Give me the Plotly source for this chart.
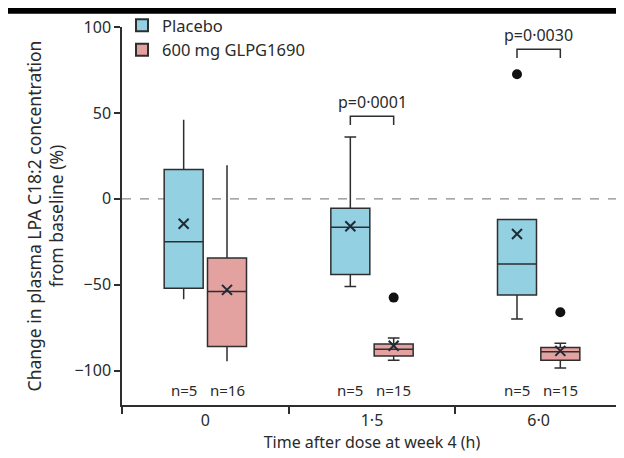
import plotly.graph_objects as go

# ---- data ----
categories = ["0", "1·5", "6·0"]
series_names = ["Placebo", "600 mg GLPG1690"]

placebo_q1 = [-52, -44, -56]
placebo_median = [-25, -16.5, -38]
placebo_q3 = [17, -5.5, -12]
placebo_low = [-58.5, -51, -70]
placebo_high = [46, 36, -12]
placebo_mean = [-14.5, -16, -20.5]
placebo_outliers = [None, None, 72.5]
placebo_n = [5, 5, 5]

glpg_q1 = [-86, -91.5, -94]
glpg_median = [-54, -87.5, -89]
glpg_q3 = [-34.5, -84.5, -86.5]
glpg_low = [-94.5, -94, -98.5]
glpg_high = [19.5, -81, -84]
glpg_mean = [-53, -85.5, -88.5]
glpg_outliers = [None, -57.5, -66]
glpg_n = [16, 15, 15]

p_values = ["", "p=0·0001", "p=0·0030"]
bracket_level = [None, 48, 87]

y_ticks = [-100, -50, 0, 50, 100]

# ---- styling ----
FONT = "Noto Sans"
TXT = "#2a2a2a"
LINE = "#2e2e2e"
colors = ["#92D0E2", "#E3A1A0"]
offsets = [-0.13, 0.13]
box_w = 0.234
cap_w = [0.0, 0.3, 0.3]

fig = go.Figure()

series = [
    (placebo_q1, placebo_median, placebo_q3, placebo_low, placebo_high, placebo_mean, placebo_outliers, placebo_n),
    (glpg_q1, glpg_median, glpg_q3, glpg_low, glpg_high, glpg_mean, glpg_outliers, glpg_n),
]

annotations = []
for s, (q1, med, q3, lo, hi, mean, outl, nn) in enumerate(series):
    for i in range(len(categories)):
        xpos = i + offsets[s]
        fig.add_trace(go.Box(
            x=[xpos], q1=[q1[i]], median=[med[i]], q3=[q3[i]],
            lowerfence=[lo[i]], upperfence=[hi[i]],
            width=box_w, whiskerwidth=cap_w[i],
            fillcolor=colors[s], line=dict(color=LINE, width=1.5),
            name=series_names[s], legendgroup=series_names[s],
            showlegend=(i == 0), boxpoints=False, hoverinfo="skip",
        ))
        annotations.append(dict(x=xpos, y=-111, text=f"n={nn[i]}", showarrow=False,
                                xanchor="center", yanchor="middle",
                                font=dict(family=FONT, size=15, color=TXT)))
    xs = [i + offsets[s] for i in range(len(categories))]
    fig.add_trace(go.Scatter(
        x=xs, y=mean, mode="markers", showlegend=False, hoverinfo="skip",
        marker=dict(symbol="x-thin-open", size=10, color="#1f2a36",
                    line=dict(color="#1f2a36", width=2)),
    ))
    ox = [xs[i] for i in range(len(outl)) if outl[i] is not None]
    oy = [v for v in outl if v is not None]
    fig.add_trace(go.Scatter(
        x=ox, y=oy, mode="markers", showlegend=False, hoverinfo="skip",
        marker=dict(symbol="circle", size=10, color="#111111"),
    ))

# significance brackets
for i, (p, lvl) in enumerate(zip(p_values, bracket_level)):
    if lvl is None:
        continue
    x1, x2 = i + offsets[0], i + offsets[1]
    fig.add_trace(go.Scatter(
        x=[x1, x1, x2, x2], y=[lvl - 5, lvl, lvl, lvl - 5], mode="lines",
        line=dict(color=LINE, width=1.5), showlegend=False, hoverinfo="skip",
    ))
    annotations.append(dict(x=i, y=lvl, text=p, showarrow=False, xanchor="center",
                            yanchor="bottom", yshift=1,
                            font=dict(family=FONT, size=16, color=TXT)))

# the page body adds an 8px offset, so the figure is 8px smaller than the window
fig.update_layout(
    width=616, height=450,
    margin=dict(l=114, r=2, t=19, b=53, autoexpand=False),
    paper_bgcolor="white", plot_bgcolor="white",
    font=dict(family=FONT, size=15, color=TXT),
    annotations=annotations,
    legend=dict(x=0.0, y=1.05, xanchor="left", yanchor="top",
                font=dict(family=FONT, size=16.5, color=TXT),
                bgcolor="rgba(0,0,0,0)", tracegroupgap=0, itemsizing="constant"),
    shapes=[
        dict(type="line", xref="paper", yref="y", x0=0, x1=1, y0=0, y1=0,
             line=dict(color="#8a8a8a", width=1.2, dash="dash"), layer="below"),
        dict(type="rect", xref="paper", yref="paper", x0=-0.23, x1=1.01,
             y0=1.035, y1=1.051, fillcolor="black", line=dict(width=0)),
    ],
    xaxis=dict(
        range=[-0.5, 2.5], showgrid=False, zeroline=False, automargin=False,
        showline=True, linecolor=LINE, linewidth=1.5,
        tickmode="array", tickvals=[0, 1, 2], ticktext=categories,
        ticks="outside", ticklen=0, tickfont=dict(family=FONT, size=16, color=TXT),
        minor=dict(tickmode="array", tickvals=[-0.5, 0.5, 1.5, 2.5], ticks="outside",
                   ticklen=7, tickwidth=1.5, tickcolor=LINE),
        title=dict(text="Time after dose at week 4 (h)", font=dict(family=FONT, size=16, color=TXT),
                   standoff=4),
    ),
    yaxis=dict(
        range=[-120, 100], showgrid=False, zeroline=False, automargin=False,
        showline=True, linecolor=LINE, linewidth=1.5,
        tickmode="array", tickvals=y_ticks, ticks="outside", ticklen=6, tickwidth=1.5,
        tickcolor=LINE, tickfont=dict(family=FONT, size=16, color=TXT),
        title=dict(text="Change in plasma LPA C18:2 concentration<br>from baseline (%)",
                   font=dict(family=FONT, size=17.5, color=TXT), standoff=6),
    ),
)

fig.write_html("out.html")
